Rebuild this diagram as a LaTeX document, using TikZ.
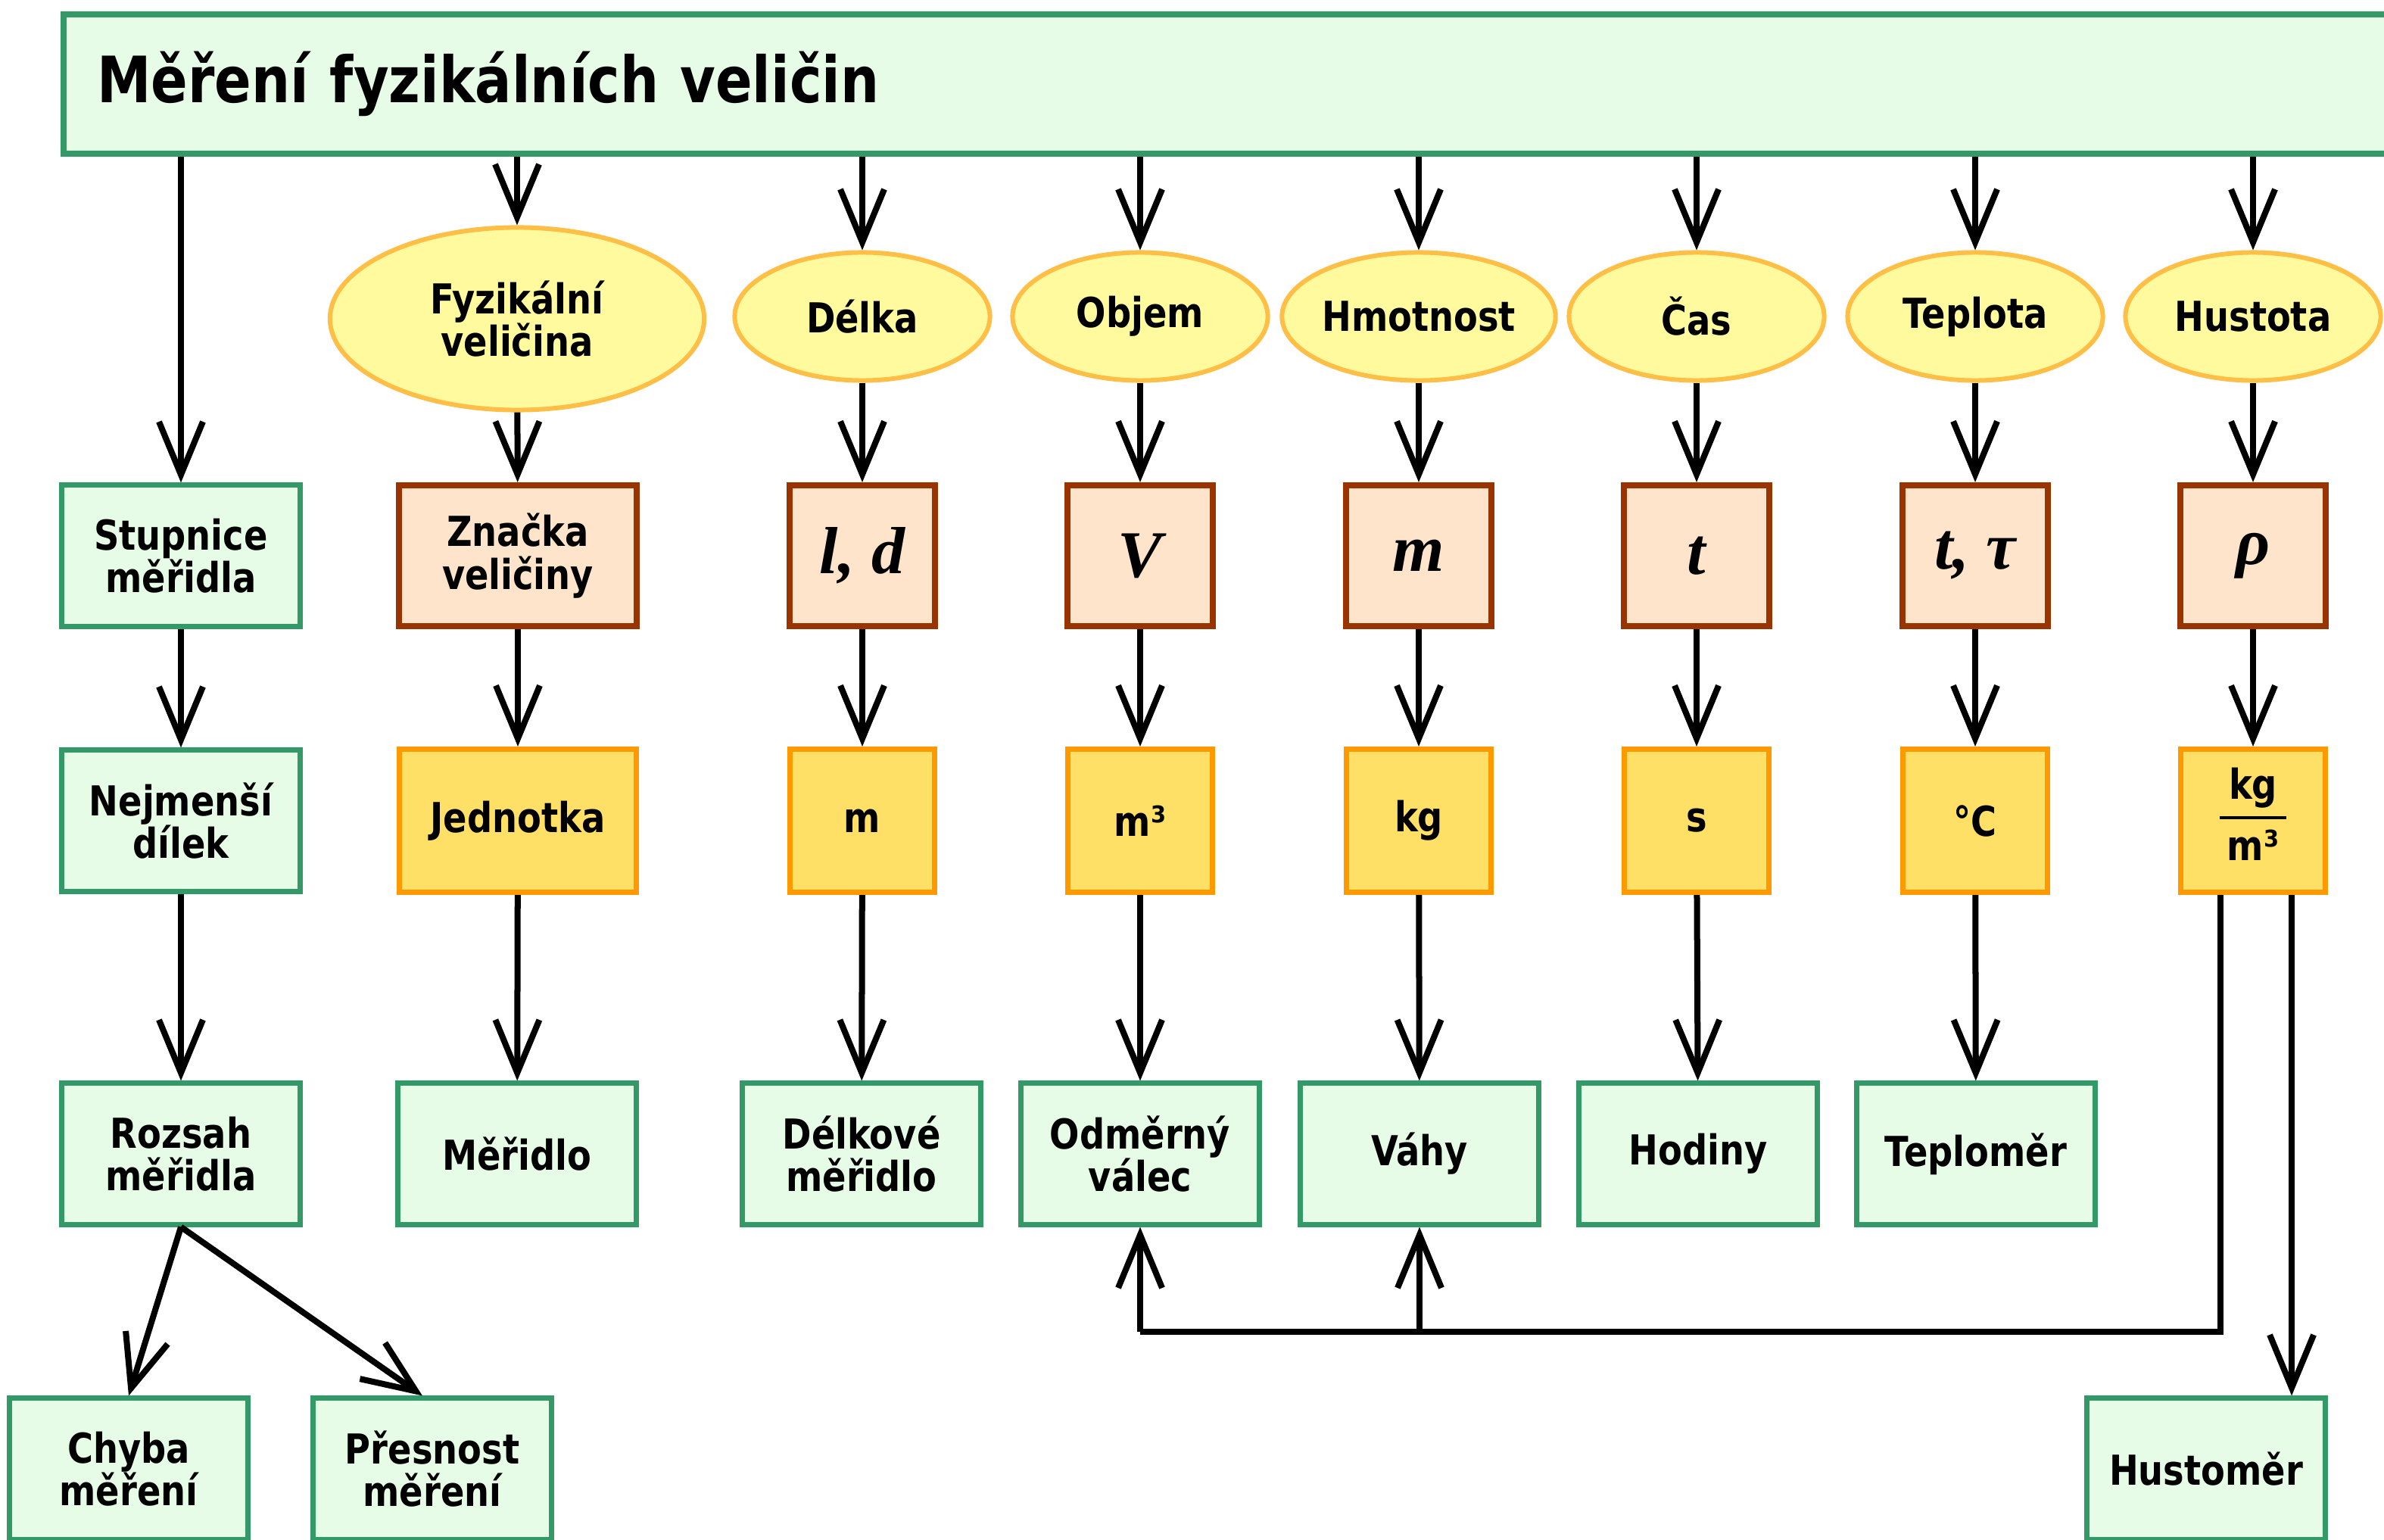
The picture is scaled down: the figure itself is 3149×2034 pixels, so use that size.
\documentclass[tikz,border=0pt]{standalone}
\usepackage{fontspec}
\setmainfont{DejaVu Sans}[FakeStretch=0.85]
\newfontfamily\symfont{Liberation Serif}
\usetikzlibrary{arrows.meta,shapes.geometric}
\definecolor{boxgreen}{HTML}{E6FCE6}
\definecolor{linegreen}{HTML}{339966}
\definecolor{ovalfill}{HTML}{FFFA9E}
\definecolor{ovalline}{HTML}{FFBF47}
\definecolor{symfill}{HTML}{FFE4CC}
\definecolor{symline}{HTML}{993300}
\definecolor{unitfill}{HTML}{FFE066}
\definecolor{unitline}{HTML}{FF9900}
\tikzset{
  every node/.style={font=\fontsize{15.5}{16}\selectfont\bfseries, align=center, inner sep=0pt},
  greenbox/.style={draw=linegreen, fill=boxgreen, line width=0.07cm, minimum width=3.14cm, minimum height=1.86cm},
  oval/.style={ellipse, draw=ovalline, fill=ovalfill, line width=0.06cm, minimum width=3.37cm, minimum height=1.69cm},
  symbox/.style={draw=symline, fill=symfill, line width=0.08cm, minimum width=1.91cm, minimum height=1.86cm,
    font=\symfont\fontsize{25}{25}\selectfont\bfseries\itshape},
  unitbox/.style={draw=unitline, fill=unitfill, line width=0.07cm, minimum width=1.91cm, minimum height=1.89cm},
  conn/.style={line width=0.08cm},
  arr/.style={conn, -{Straight Barb[length=0.7cm, width=0.58cm]}}
}
\begin{document}
\begin{tikzpicture}[x=0.01cm, y=-0.01cm]
  \useasboundingbox (0,0) rectangle (3149,2034);
  % hlavni nadpis
  \node[draw=linegreen, fill=boxgreen, line width=0.08cm, anchor=west, text width=30cm, align=left,
    inner xsep=0.44cm, minimum height=1.83cm, font=\fontsize{24}{24}\selectfont\bfseries]
    (title) at (80,111) {Měření fyzikálních veličin};
  % prvni sloupec
  \node[greenbox] (stupnice) at (239,734) {Stupnice\\měřidla};
  \node[greenbox] (dilek) at (239,1084) {Nejmenší\\dílek};
  \node[greenbox] (rozsah) at (239,1524) {Rozsah\\měřidla};
  \node[greenbox] (chyba) at (170,1940) {Chyba\\měření};
  \node[greenbox] (presnost) at (571,1940) {Přesnost\\měření};
  \draw[arr] (title.south -| stupnice) -- (stupnice);
  \draw[arr] (stupnice) -- (dilek);
  \draw[arr] (dilek) -- (rozsah);
  \draw[arr] (rozsah.south) -- (chyba.north);
  \draw[arr] (rozsah.south) -- ([xshift=-0.13cm]presnost.north);
  % obecny sloupec
  \node[oval, minimum width=4.94cm, minimum height=2.41cm] (velicina) at (683,421) {Fyzikální\\veličina};
  \node[symbox, minimum width=3.13cm, font=\fontsize{15.5}{16}\selectfont\bfseries] (znacka) at (684,734) {Značka\\veličiny};
  \node[unitbox, minimum width=3.13cm] (jednotka) at (684,1084) {Jednotka};
  \node[greenbox] (meridlo) at (683,1524) {Měřidlo};
  \draw[arr] (title.south -| velicina) -- (velicina);
  \draw[arr] (velicina) -- (znacka);
  \draw[arr] (znacka) -- (jednotka);
  \draw[arr] (jednotka) -- (meridlo);
  % veliciny
  \node[oval] (delka) at (1139,418) {Délka};
  \node[oval] (objem) at (1506,418) {Objem};
  \node[oval] (hmotnost) at (1874,418) {Hmotnost};
  \node[oval] (cas) at (2241,418) {Čas};
  \node[oval] (teplota) at (2609,418) {Teplota};
  \node[oval] (hustota) at (2976,418) {Hustota};
  \node[symbox] (sl) at (1139,734) {l, d};
  \node[symbox] (sv) at (1506,734) {V};
  \node[symbox] (sm) at (1874,734) {m};
  \node[symbox] (st) at (2241,734) {t};
  \node[symbox] (stt) at (2609,734) {t, τ};
  \node[symbox] (srho) at (2976,734) {ρ};
  \node[unitbox] (um) at (1139,1084) {m};
  \node[unitbox] (um3) at (1506,1084) {m³};
  \node[unitbox] (ukg) at (1874,1084) {kg};
  \node[unitbox] (us) at (2241,1084) {s};
  \node[unitbox] (uc) at (2609,1084) {°C};
  \node[unitbox] (ukgm) at (2976,1084) {\setlength{\arrayrulewidth}{0.04cm}\setlength{\tabcolsep}{0.1cm}%
    \begin{tabular}{c}kg\\[0.05cm]\hline\rule{0pt}{0.55cm}m³\end{tabular}};
  \node[greenbox] (delkove) at (1138,1524) {Délkové\\měřidlo};
  \node[greenbox] (valec) at (1506,1524) {Odměrný\\válec};
  \node[greenbox] (vahy) at (1875,1524) {Váhy};
  \node[greenbox] (hodiny) at (2243,1524) {Hodiny};
  \node[greenbox] (teplomer) at (2610,1524) {Teploměr};
  \node[greenbox] (hustomer) at (2914,1940) {Hustoměr};
  \draw[arr] (title.south -| delka) -- (delka);
  \draw[arr] (title.south -| objem) -- (objem);
  \draw[arr] (title.south -| hmotnost) -- (hmotnost);
  \draw[arr] (title.south -| cas) -- (cas);
  \draw[arr] (title.south -| teplota) -- (teplota);
  \draw[arr] (title.south -| hustota) -- (hustota);
  \draw[arr] (delka) -- (sl);
  \draw[arr] (objem) -- (sv);
  \draw[arr] (hmotnost) -- (sm);
  \draw[arr] (cas) -- (st);
  \draw[arr] (teplota) -- (stt);
  \draw[arr] (hustota) -- (srho);
  \draw[arr] (sl) -- (um);
  \draw[arr] (sv) -- (um3);
  \draw[arr] (sm) -- (ukg);
  \draw[arr] (st) -- (us);
  \draw[arr] (stt) -- (uc);
  \draw[arr] (srho) -- (ukgm);
  \draw[arr] (um) -- (delkove);
  \draw[arr] (um3) -- (valec);
  \draw[arr] (ukg) -- (vahy);
  \draw[arr] (us) -- (hodiny);
  \draw[arr] (uc) -- (teplomer);
  % hustota -> valec, vahy, hustomer
  \coordinate (hk1) at ([xshift=-0.43cm]ukgm.south);
  \coordinate (hk2) at ([xshift=0.51cm]ukgm.south);
  \coordinate (bend) at (hk1 |- 0,1759);
  \draw[conn] (hk1) -- (bend) -- (bend -| valec.south);
  \draw[arr] (bend -| valec.south) -- (valec);
  \draw[arr] (bend -| vahy.south) -- (vahy);
  \draw[arr] (hk2) -- (hk2 |- hustomer.north);
\end{tikzpicture}
\end{document}
